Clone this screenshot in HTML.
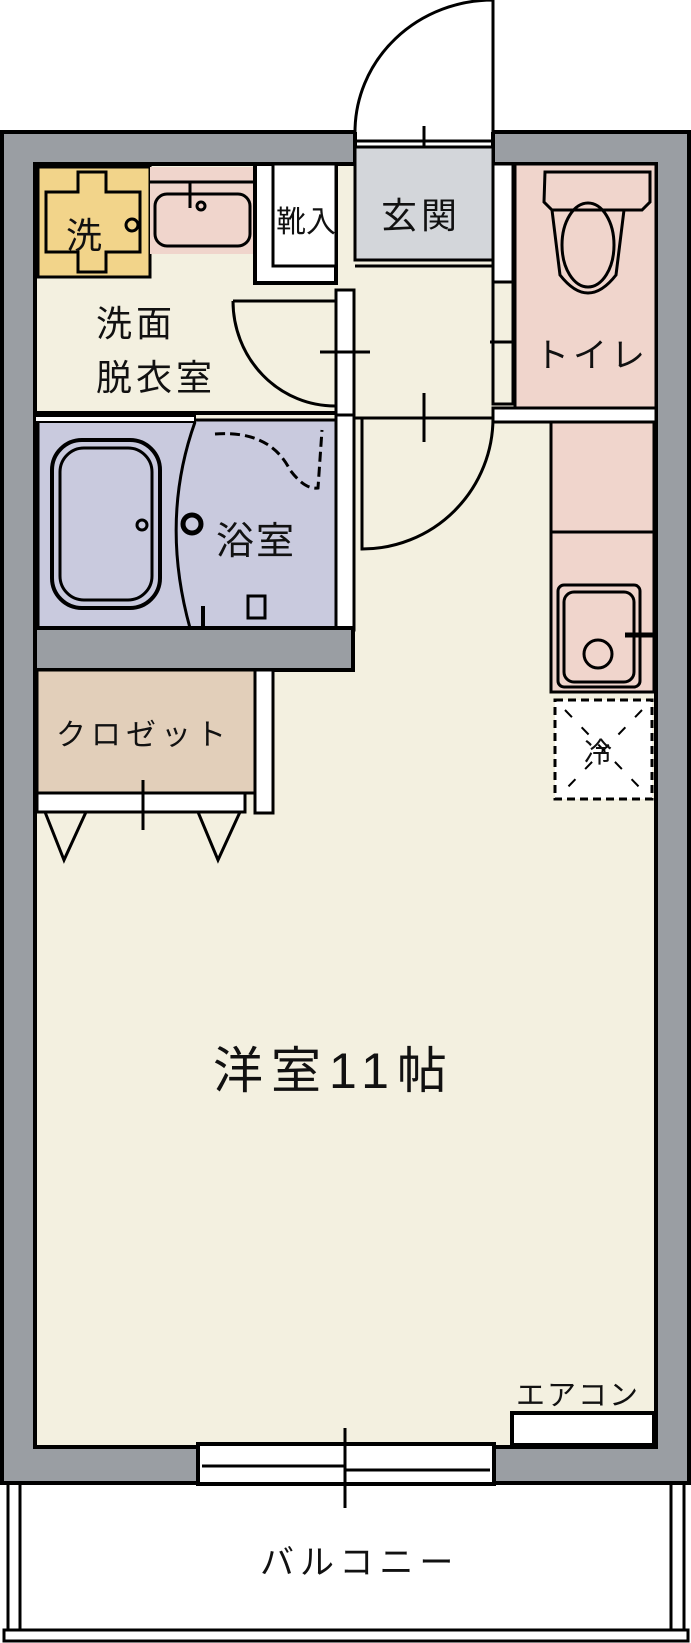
<!DOCTYPE html>
<html><head><meta charset="utf-8"><style>
html,body{margin:0;padding:0;background:#fff}
svg{display:block}
text{font-family:"Liberation Sans","Noto Sans CJK JP",sans-serif;fill:#111}
</style></head><body>
<svg width="691" height="1643" viewBox="0 0 691 1643" xmlns="http://www.w3.org/2000/svg">
<g stroke="#000" stroke-width="4" fill="none">
<rect x="2" y="132" width="687" height="1351" fill="#9a9ea3"/>
<rect x="35" y="164" width="621" height="1283" fill="#f3f0e0"/>
<rect x="355" y="130" width="138" height="34" fill="#fff" stroke="none"/>
<line x1="355" y1="141" x2="493" y2="141" stroke-width="3"/>
<line x1="355" y1="147" x2="493" y2="147" stroke-width="3"/>
<line x1="355" y1="132" x2="355" y2="164"/><line x1="493" y1="132" x2="493" y2="164"/>
<line x1="424" y1="126" x2="424" y2="152" stroke-width="3"/>
<path d="M355 132 A138 132 0 0 1 493 0 L493 132" stroke-width="3"/>
<rect x="198" y="1444" width="296" height="40" fill="#fff"/>
<line x1="202" y1="1466" x2="345" y2="1466" stroke-width="3"/>
<line x1="345" y1="1470" x2="490" y2="1470" stroke-width="3"/>
<line x1="345" y1="1428" x2="345" y2="1508" stroke-width="3"/>
<line x1="8" y1="1483" x2="8" y2="1630" stroke-width="3"/><line x1="20" y1="1483" x2="20" y2="1630" stroke-width="3"/>
<line x1="671" y1="1483" x2="671" y2="1630" stroke-width="3"/><line x1="684" y1="1483" x2="684" y2="1630" stroke-width="3"/>
<rect x="4" y="1630" width="684" height="11" stroke-width="3"/>
<rect x="512" y="1413" width="142" height="32" fill="#fff"/>

<rect x="355" y="147" width="138" height="113" fill="#d3d6da" stroke-width="3"/>
<line x1="355" y1="266" x2="493" y2="266" stroke-width="3"/>
<rect x="336" y="290" width="18" height="125" fill="#fff" stroke-width="3"/>
<rect x="336" y="415" width="18" height="215" fill="#fff" stroke-width="3"/>
<rect x="493" y="164" width="20" height="118" fill="#fff" stroke-width="3"/>
<rect x="493" y="282" width="20" height="122" fill="#f3f0e0" stroke-width="3"/>
<line x1="490" y1="342" x2="530" y2="342" stroke-width="3"/>
<line x1="35" y1="413" x2="336" y2="413"/>
<path d="M255 164 L255 283 L336 283 L336 164 Z" fill="#fff"/>
<rect x="273" y="164" width="63" height="102" fill="#fff" stroke-width="3"/>
<rect x="38" y="167" width="112" height="110" fill="#f2d48a" stroke-width="3"/>
<path d="M78 172 h28 v20 h34 v60 h-34 v20 h-28 v-20 h-32 v-60 h32 z" stroke-width="3"/>
<circle cx="132" cy="225" r="6" stroke-width="3"/>
<rect x="150" y="167" width="103" height="87" fill="#f0d5cc" stroke-width="0"/>
<line x1="150" y1="182" x2="253" y2="182" stroke-width="3"/>
<rect x="155" y="194" width="95" height="52" rx="12" stroke-width="3"/>
<path d="M190 183 v25" stroke-width="3"/><circle cx="201" cy="206" r="4" stroke-width="3"/>
<path d="M233 301 L335 301 M233 301 A102 105 0 0 0 335 406" stroke-width="3"/>
<line x1="320" y1="352" x2="370" y2="352" stroke-width="3"/>
<rect x="38" y="420" width="298" height="208" fill="#c9cade" stroke-width="3"/>
<rect x="35" y="628" width="318" height="42" fill="#9a9ea3"/>
<rect x="35" y="416" width="160" height="6" fill="#fff" stroke-width="2"/>
<rect x="52" y="440" width="108" height="168" rx="30" stroke-width="4"/>
<rect x="60" y="448" width="92" height="152" rx="24" stroke-width="3"/>
<circle cx="142" cy="525" r="5" stroke-width="3"/>
<circle cx="192" cy="524" r="9" stroke-width="5"/>
<path d="M195 422 Q160 520 190 628" stroke-width="3"/>
<path d="M215 434 Q270 430 290 470 Q305 490 318 488 L322 430" stroke-width="3" stroke-dasharray="10 5"/>
<rect x="248" y="596" width="17" height="22" stroke-width="3"/>
<line x1="203" y1="606" x2="203" y2="628" stroke-width="4"/>
<rect x="37" y="670" width="218" height="123" fill="#e2cfba" stroke-width="3"/>
<rect x="255" y="670" width="18" height="143" fill="#fff" stroke-width="3"/>
<rect x="37" y="793" width="208" height="19" fill="#fff" stroke-width="3"/>
<line x1="143" y1="780" x2="143" y2="830" stroke-width="3"/>
<path d="M45 812 L64 860 L86 812 M198 812 L218 860 L240 812" stroke-width="3"/>
<rect x="515" y="164" width="141" height="244" fill="#f0d5cc" stroke-width="3"/>
<line x1="515" y1="168" x2="515" y2="280" stroke-width="3" stroke-dasharray="6 5"/>
<rect x="493" y="408" width="163" height="14" fill="#fff" stroke-width="3"/>
<path d="M545 172 h105 v30 l-8 8 h-90 l-8 -8 z" stroke-width="3"/>
<path d="M552 210 l8 65 q14 18 28 18 q14 0 28 -18 l8 -65" stroke-width="3"/>
<ellipse cx="588" cy="245" rx="26" ry="42" stroke-width="3"/>
<rect x="551" y="422" width="103" height="270" fill="#f0d5cc" stroke-width="3"/>
<line x1="551" y1="532" x2="654" y2="532" stroke-width="3"/>
<rect x="558" y="585" width="82" height="102" rx="6" stroke-width="3"/>
<rect x="564" y="592" width="70" height="90" rx="10" stroke-width="3"/>
<circle cx="598" cy="654" r="14" stroke-width="3"/>
<line x1="625" y1="635" x2="654" y2="635" stroke-width="5"/>
<rect x="555" y="700" width="97" height="99" fill="#fff" stroke-width="3" stroke-dasharray="8 5"/>
<path d="M565 710 L642 790 M642 710 L565 790" stroke-width="2" stroke-dasharray="10 14"/>
<line x1="355" y1="418" x2="493" y2="418" stroke-width="3"/>
<path d="M493 418 A131 131 0 0 1 362 549 L362 418" stroke-width="3"/>
<line x1="424" y1="393" x2="424" y2="442" stroke-width="3"/>
</g>
<text x="66" y="248" font-size="36">洗</text>
<text x="276" y="232" font-size="30">靴入</text>
<text x="381" y="228" font-size="36" letter-spacing="4">玄関</text>
<text x="96" y="336" font-size="36" letter-spacing="4">洗面</text>
<text x="96" y="390" font-size="36" letter-spacing="4">脱衣室</text>
<text x="216" y="554" font-size="38" letter-spacing="2">浴室</text>
<text x="535" y="367" font-size="34" letter-spacing="4">トイレ</text>
<text x="56" y="745" font-size="30" letter-spacing="5">クロゼット</text>
<text x="584" y="762" font-size="28">冷</text>
<text x="213" y="1088" font-size="50" letter-spacing="8">洋室11帖</text>
<text x="516" y="1405" font-size="29" letter-spacing="2">エアコン</text>
<text x="260" y="1574" font-size="34" letter-spacing="6">バルコニー</text>
</svg>
</body></html>
